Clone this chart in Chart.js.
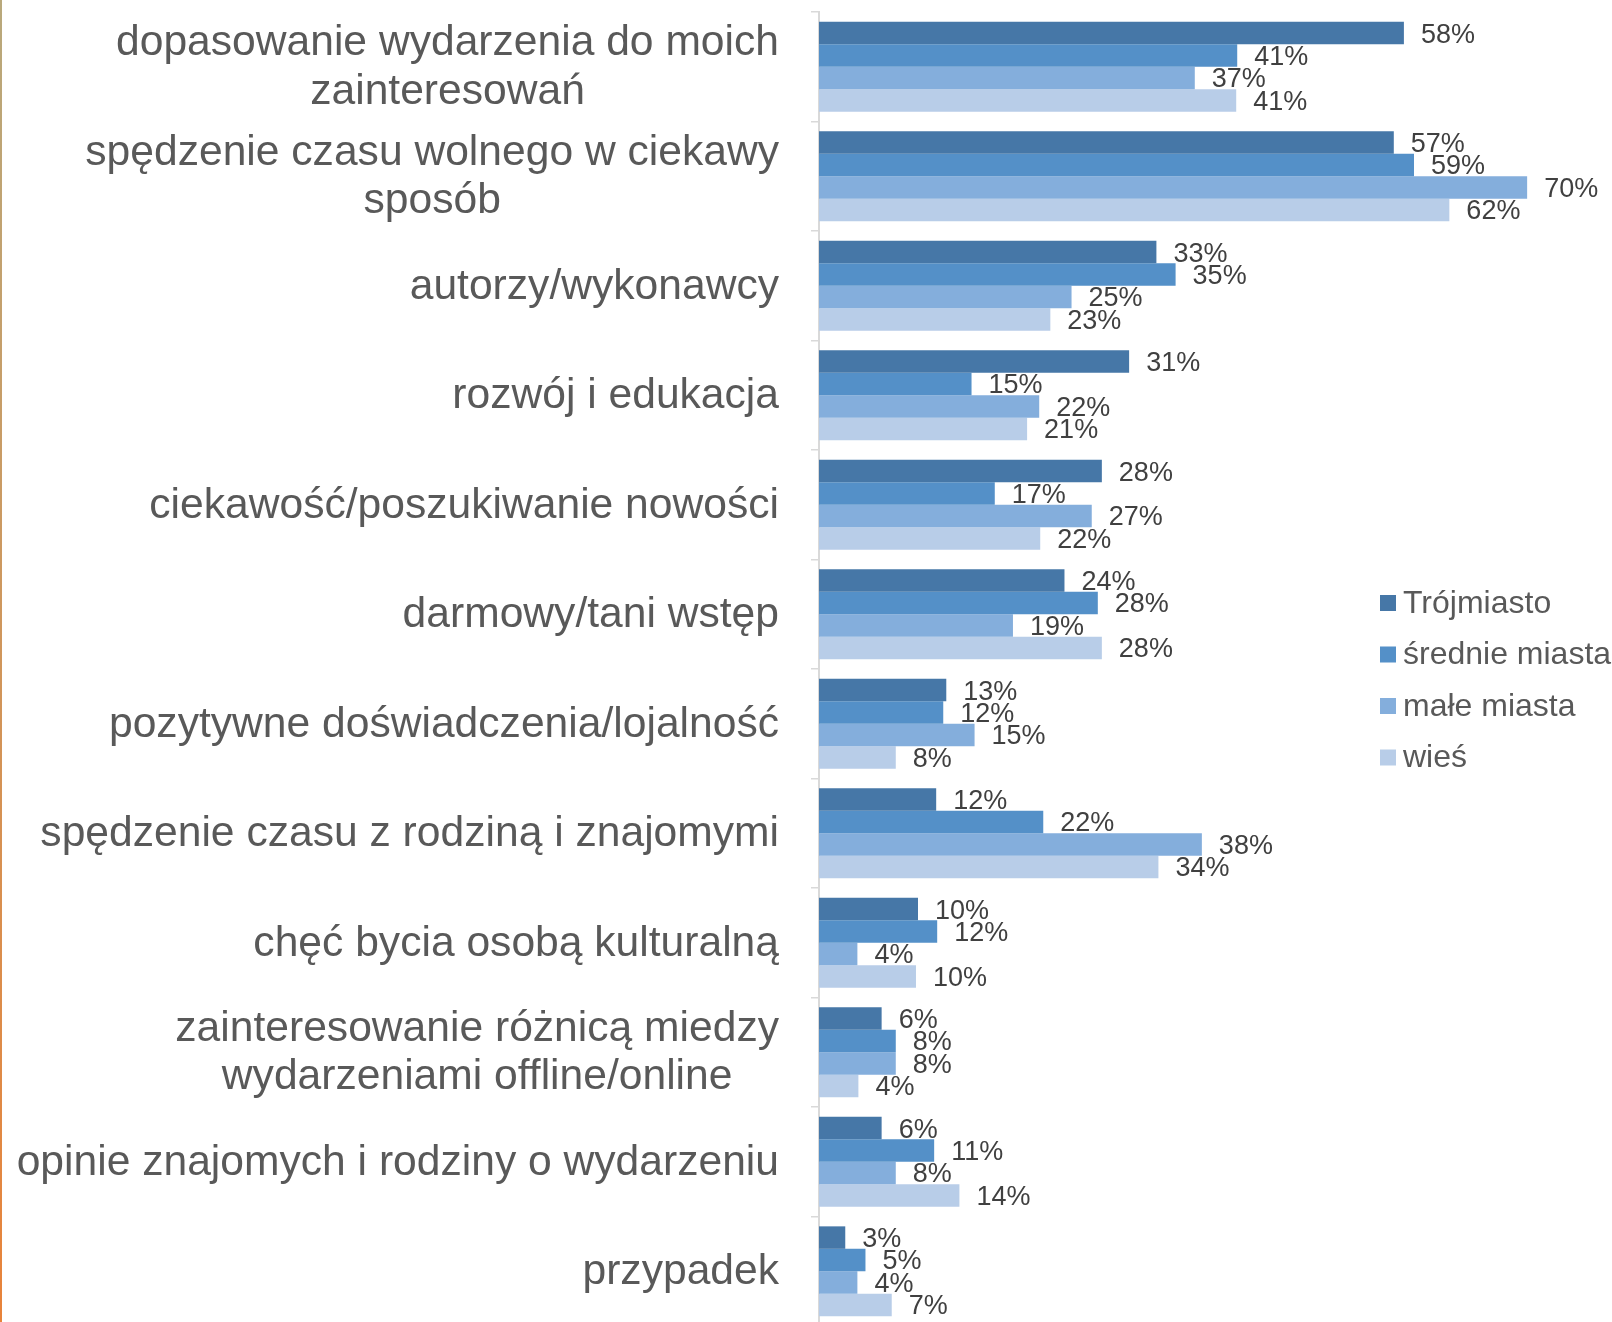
<!DOCTYPE html>
<html lang="pl">
<head>
<meta charset="utf-8">
<title>Motywacje udziału w wydarzeniach</title>
<script src="https://cdn.jsdelivr.net/npm/chart.js@4"></script>
<style>
    html, body { margin: 0; padding: 0; background: #ffffff; overflow: hidden; }
    #wrap { position: relative; width: 1612px; height: 1326px; }
    #edge {
        position: absolute; left: 0; top: 0; width: 2px; height: 1326px;
        background: linear-gradient(to bottom, #b9a97c, #e8833a);
    }
</style>
</head>
<body>
<div id="wrap">
    <canvas id="chart"></canvas>
    <div id="edge"></div>
</div>
<script>
// kategorie (wiele linii = zawijany opis)
const categories = [
    ['dopasowanie wydarzenia do moich', 'zainteresowań'],
    ['spędzenie czasu wolnego w ciekawy', 'sposób'],
    'autorzy/wykonawcy',
    'rozwój i edukacja',
    'ciekawość/poszukiwanie nowości',
    'darmowy/tani wstęp',
    'pozytywne doświadczenia/lojalność',
    'spędzenie czasu z rodziną i znajomymi',
    'chęć bycia osobą kulturalną',
    ['zainteresowanie różnicą miedzy', 'wydarzeniami offline/online'],
    'opinie znajomych i rodziny o wydarzeniu',
    'przypadek',
];

const seriesNames = ['Trójmiasto', 'średnie miasta', 'małe miasta', 'wieś'];

const trojmiasto = [57.9, 56.9, 33.4, 30.7, 28.0, 24.3, 12.6, 11.6, 9.8, 6.2, 6.2, 2.6];
const srednieMiasta = [41.4, 58.9, 35.3, 15.1, 17.4, 27.6, 12.3, 22.2, 11.7, 7.6, 11.4, 4.6];
const maleMiasta = [37.2, 70.1, 25.0, 21.8, 27.0, 19.2, 15.4, 37.9, 3.8, 7.6, 7.6, 3.8];
const wies = [41.3, 62.4, 22.9, 20.6, 21.9, 28.0, 7.6, 33.6, 9.6, 3.9, 13.9, 7.2];

const colors = ['#4677a7', '#5490c8', '#84aedc', '#b8cde8'];

const FONT = '"Liberation Sans", Arial, sans-serif';
const LABEL_SIZE = 42.6;
const LABEL_LINE = 1.15;

// etykiety osi Y: bloki wyrównane do prawej, linie wyśrodkowane względem siebie
const categoryLabels = {
    id: 'categoryLabels',
    afterDraw(chart) {
        const ctx = chart.ctx;
        const y = chart.scales.y;
        const right = chart.chartArea.left - 40;
        ctx.save();
        ctx.font = `${LABEL_SIZE}px ${FONT}`;
        ctx.fillStyle = '#595959';
        ctx.textAlign = 'center';
        ctx.textBaseline = 'middle';
        chart.data.labels.forEach((label, i) => {
            const lines = Array.isArray(label) ? label : [label];
            const maxW = Math.max(...lines.map(l => ctx.measureText(l).width));
            const cx = right - maxW / 2;
            const cy = y.getPixelForValue(i);
            const lh = LABEL_SIZE * LABEL_LINE;
            lines.forEach((line, j) => {
                ctx.fillText(line, cx, cy + (j - (lines.length - 1) / 2) * lh + 1);
            });
        });
        ctx.restore();
    },
};

// wartości przy słupkach
const valueLabels = {
    id: 'valueLabels',
    afterDatasetsDraw(chart) {
        const ctx = chart.ctx;
        ctx.save();
        ctx.font = `27px ${FONT}`;
        ctx.fillStyle = '#404040';
        ctx.textAlign = 'left';
        ctx.textBaseline = 'middle';
        chart.data.datasets.forEach((ds, di) => {
            chart.getDatasetMeta(di).data.forEach((bar, i) => {
                ctx.fillText(Math.round(ds.data[i]) + '%', bar.x + 17, bar.y + 2);
            });
        });
        ctx.restore();
    },
};

// legenda po prawej, nachodząca na obszar wykresu
const sideLegend = {
    id: 'sideLegend',
    afterDraw(chart) {
        const ctx = chart.ctx;
        const x = chart.chartArea.right - 232;
        const top = 603;
        ctx.save();
        ctx.font = `32px ${FONT}`;
        ctx.textAlign = 'left';
        ctx.textBaseline = 'middle';
        chart.data.datasets.forEach((ds, i) => {
            const cy = top + i * 51.5;
            ctx.fillStyle = ds.backgroundColor;
            ctx.fillRect(x, cy - 8, 16, 16);
            ctx.fillStyle = '#595959';
            ctx.fillText(ds.label, x + 23, cy + 1);
        });
        ctx.restore();
    },
};

const seriesData = [trojmiasto, srednieMiasta, maleMiasta, wies];

new Chart(document.getElementById('chart'), {
    type: 'bar',
    data: {
        labels: categories,
        datasets: seriesNames.map((name, i) => ({
            label: name,
            data: seriesData[i],
            backgroundColor: colors[i],
            borderWidth: 0,
            categoryPercentage: 0.82,
            barPercentage: 1.0,
        })),
    },
    options: {
        indexAxis: 'y',
        responsive: true,
        maintainAspectRatio: false,
        animation: false,
        layout: {
            padding: { top: 12, right: 0, bottom: 0, left: 0 },
        },
        plugins: {
            legend: { display: false },
            tooltip: { enabled: false },
        },
        scales: {
            x: {
                display: false,
                min: 0,
                max: 78.5,
            },
            y: {
                afterFit(scale) {
                    scale.width = 819;
                    scale.paddingTop = 0;
                    scale.paddingBottom = 0;
                },
                border: {
                    display: true,
                    color: '#d9d9d9',
                    width: 2,
                },
                grid: {
                    drawOnChartArea: false,
                    drawTicks: true,
                    tickLength: 8,
                    color: '#d9d9d9',
                    lineWidth: 1.5,
                },
                ticks: {
                    display: false,
                },
            },
        },
    },
    plugins: [categoryLabels, valueLabels, sideLegend],
});
</script>
</body>
</html>
